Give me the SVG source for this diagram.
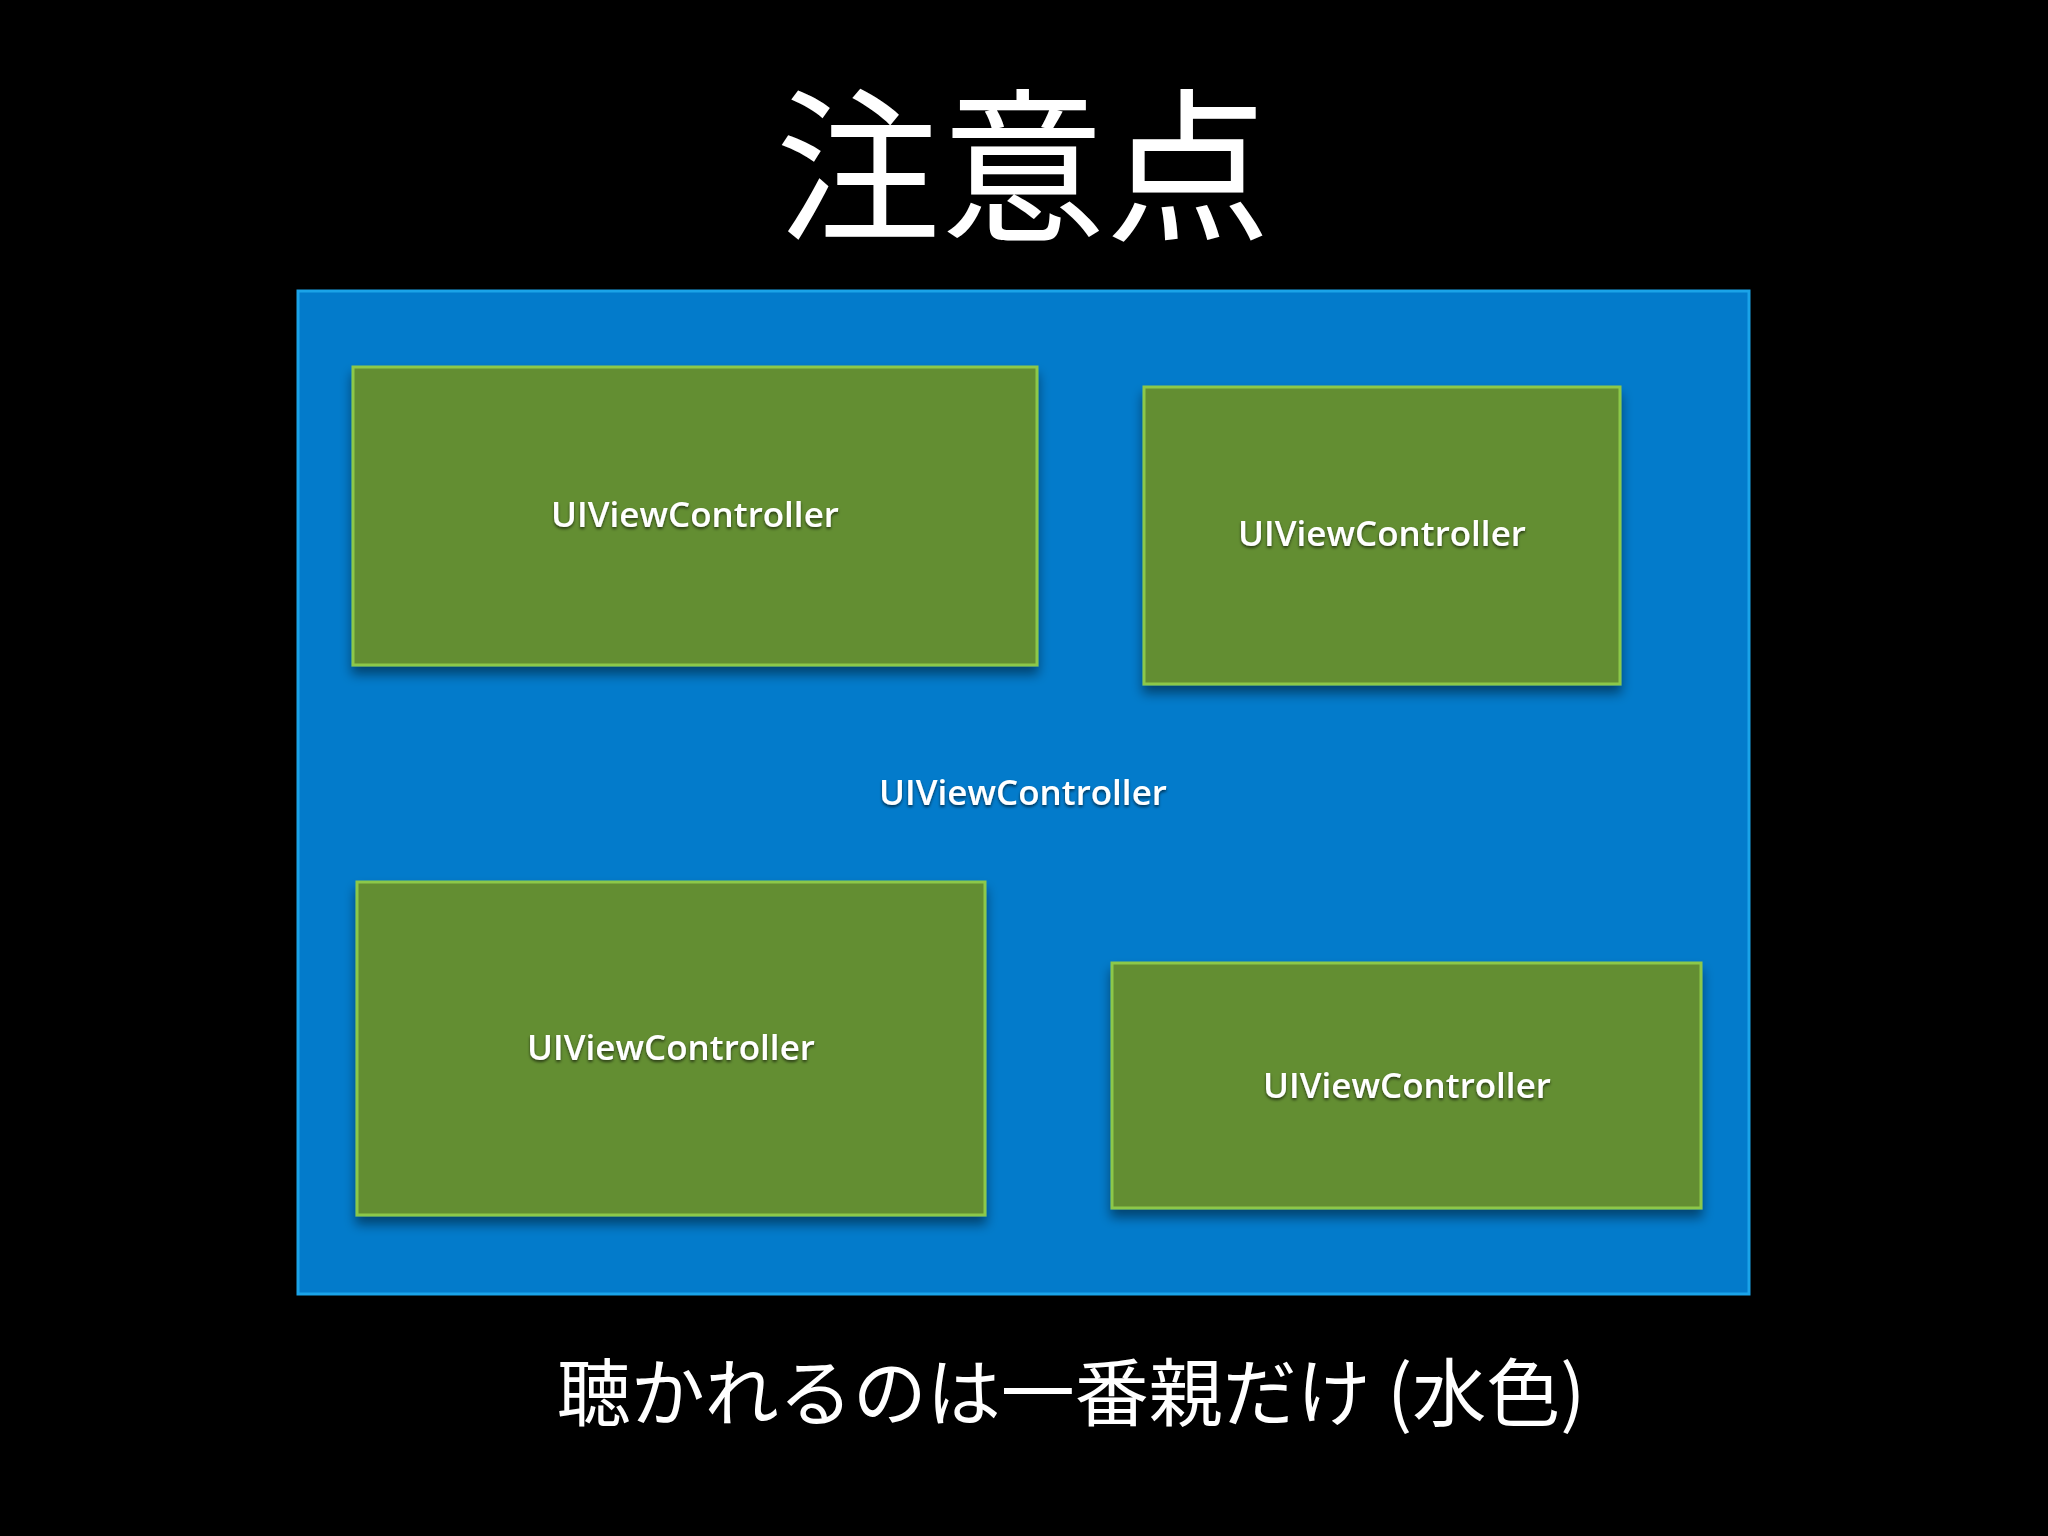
<svg xmlns="http://www.w3.org/2000/svg" width="2048" height="1536" viewBox="0 0 2048 1536">
<defs>
<filter id="sh" x="-10%" y="-10%" width="120%" height="130%"><feDropShadow dx="0" dy="8" stdDeviation="6" flood-color="#000" flood-opacity="0.45"/></filter>
<filter id="ts"><feDropShadow dx="0" dy="2" stdDeviation="1.5" flood-color="#000" flood-opacity="0.6"/></filter>
</defs>
<style>
.g{fill:#648e33;stroke:#8cc84a;stroke-width:3;filter:url(#sh)}
.l{font-family:"Open Sans","Liberation Sans",sans-serif;font-weight:600;font-size:35px;fill:#fff;text-anchor:middle;filter:url(#ts)}
.j{font-family:"Noto Sans CJK JP",sans-serif;fill:#fff;text-anchor:middle}
</style>
<rect width="2048" height="1536" fill="#000"/>
<text class="j" x="1023" y="228" font-size="165">注意点</text>
<g id="parent"><rect x="298" y="291" width="1451" height="1003" fill="#037bcb" stroke="#1aa3e8" stroke-width="3"/>
<text class="l" x="1023" y="805">UIViewController</text></g>
<g id="c1"><rect class="g" x="353" y="367" width="684" height="298"/><text class="l" x="695" y="527">UIViewController</text></g>
<g id="c2"><rect class="g" x="1144" y="387" width="476" height="297"/><text class="l" x="1382" y="546">UIViewController</text></g>
<g id="c3"><rect class="g" x="357" y="882" width="628" height="333"/><text class="l" x="671" y="1060">UIViewController</text></g>
<g id="c4"><rect class="g" x="1112" y="963" width="589" height="245"/><text class="l" x="1407" y="1098">UIViewController</text></g>
<g id="connectors"/>
<text class="j" x="1071" y="1420" font-size="74">聴かれるのは一番親だけ (水色)</text>
</svg>
